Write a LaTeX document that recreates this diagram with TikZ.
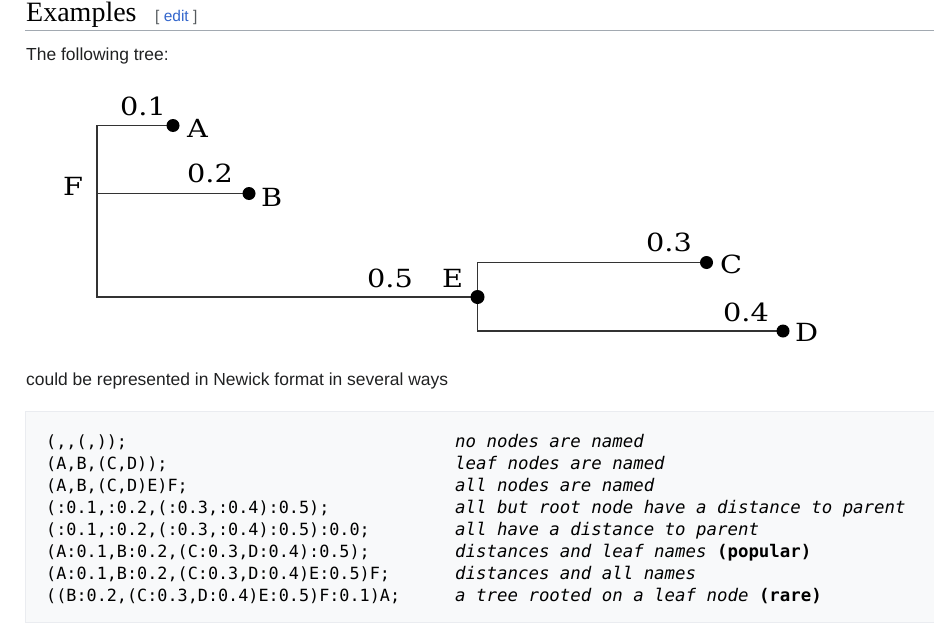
\documentclass[tikz,border=0pt]{standalone}
\usepackage{fontspec}
\setmainfont{Liberation Sans}
\setmonofont{DejaVu Sans Mono}
\newfontfamily\headfont{Liberation Serif}
\newfontfamily\treefont[FakeStretch=1.15]{DejaVu Serif}
\definecolor{bodytext}{HTML}{202122}
\definecolor{linkblue}{HTML}{3366CC}
\definecolor{bracketgray}{HTML}{54595D}
\definecolor{rulegray}{HTML}{A2A9B1}
\definecolor{codebg}{HTML}{F8F9FA}
\definecolor{codeborder}{HTML}{EAECF0}
\definecolor{branchgray}{HTML}{333333}
\tikzset{
  leaf/.style={circle, fill=black, inner sep=0pt, minimum size=13pt},
  branch/.style={draw=branchgray, line width=1.4pt},
  treenum/.style={anchor=base east, inner sep=0pt, text=black, font=\treefont\fontsize{25}{25}\selectfont},
  treename/.style={treenum, anchor=base west},
  bodyline/.style={anchor=base west, inner sep=0pt, text=bodytext, font=\fontsize{17.45}{20}\selectfont},
  codeline/.style={anchor=base west, inner sep=0pt, text=black, font=\ttfamily\fontsize{16.8}{22}\selectfont},
  noteline/.style={codeline, font=\ttfamily\itshape\fontsize{17.4}{22}\selectfont}
}
\begin{document}
\begin{tikzpicture}[x=1pt, y=-1pt]
    \useasboundingbox (0,0) rectangle (934,637);

    %Heading
    \node[anchor=base west, inner sep=0pt, font=\headfont\fontsize{28}{28}\selectfont] (heading) at (26,21.7) {Examples};
    \node[anchor=base west, inner sep=0pt, font=\fontsize{15.5}{15.5}\selectfont] (edit) at (155,21.7)
        {\textcolor{bracketgray}{[} \textcolor{linkblue}{edit} \textcolor{bracketgray}{]}};
    \draw[rulegray, line width=1pt] (25,30) -- (934,30);
    \node[bodyline] (intro) at (26,60) {The following tree:};

    %Tree
    \coordinate (A) at (173,125.5);
    \coordinate (B) at (249,193.5);
    \coordinate (C) at (706.5,262.5);
    \coordinate (D) at (783,331);
    \coordinate (E) at (477.5,297);
    \coordinate (F) at (97,193.5);
    \draw[branch] (A) -| (F) |- (E);
    \draw[branch] (F) -- (B);
    \draw[branch] (C) -| (E) |- (D);
    \node[leaf] (dotA) at (A) {};
    \node[leaf] (dotB) at (B) {};
    \node[leaf] (dotC) at (C) {};
    \node[leaf] (dotD) at (D) {};
    \node[leaf, minimum size=14pt] (dotE) at (E) {};

    \node[treenum] (lenA) at (166,115) {0.1};
    \node[treenum] (lenB) at (233,182) {0.2};
    \node[treenum] (lenC) at (692,251.5) {0.3};
    \node[treenum] (lenD) at (769,321.5) {0.4};
    \node[treenum] (lenE) at (413,287) {0.5};
    \node[treename] (nameA) at (187,137) {A};
    \node[treename] (nameB) at (261,206) {B};
    \node[treename] (nameC) at (720,273) {C};
    \node[treename] (nameD) at (795,341.7) {D};
    \node[treename] (nameE) at (442,287) {E};
    \node[treename] (nameF) at (63,195) {F};

    %Newick strings
    \node[bodyline] (outro) at (26,385) {could be represented in Newick format in several ways};
    \draw[codeborder, fill=codebg, line width=1pt] (25.5,411.5) rectangle (940,622.5);
    \foreach \newick/\remark [count=\i] in {
        {(,,(,));}/{no nodes are named},
        {(A,B,(C,D));}/{leaf nodes are named},
        {(A,B,(C,D)E)F;}/{all nodes are named},
        {(:0.1,:0.2,(:0.3,:0.4):0.5);}/{all but root node have a distance to parent},
        {(:0.1,:0.2,(:0.3,:0.4):0.5):0.0;}/{all have a distance to parent},
        {(A:0.1,B:0.2,(C:0.3,D:0.4):0.5);}/{distances and leaf names {\upshape\bfseries(popular)}},
        {(A:0.1,B:0.2,(C:0.3,D:0.4)E:0.5)F;}/{distances and all names},
        {((B:0.2,(C:0.3,D:0.4)E:0.5)F:0.1)A;}/{a tree rooted on a leaf node {\upshape\bfseries(rare)}}} {
      \node[codeline] (code\i) at (46,447+22*\i-22) {\newick};
      \node[noteline] (note\i) at (455,447+22*\i-22) {\remark};
    }
\end{tikzpicture}
\end{document}
